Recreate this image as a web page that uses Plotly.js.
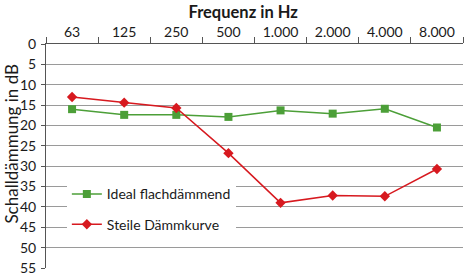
<!DOCTYPE html>
<html><head><meta charset="utf-8">
<script src="https://cdn.plot.ly/plotly-3.0.1.min.js"></script>
<style>body{margin:0;padding:0;background:#fff}#c{width:465px;height:276px}</style>
</head><body><div id="c"></div>
<script>
const categories = ["63","125","250","500","1.000","2.000","4.000","8.000"];
const idealValues = [16.0, 17.4, 17.4, 17.9, 16.3, 17.1, 15.9, 20.5];
const steilValues = [13.0, 14.4, 15.7, 26.8, 39.0, 37.2, 37.4, 30.7];
const seriesNames = ["Ideal flachdämmend", "Steile Dämmkurve"];
const xTitle = "Frequenz in Hz";
const yTitle = "Schalldämmung in dB";

const font = "Lato, Open Sans, sans-serif";
const traces = [
  {x: categories, y: idealValues, name: seriesNames[0], type: "scatter", mode: "lines+markers",
   legendgroup: "a",
   line: {color: "#4c9f38", width: 1.5}, marker: {symbol: "square", size: 8, color: "#4c9f38"}},
  {x: categories, y: steilValues, name: seriesNames[1], type: "scatter", mode: "lines+markers",
   legendgroup: "b",
   line: {color: "#d7191f", width: 1.5}, marker: {symbol: "diamond", size: 8, color: "#d7191f"}}
];
const layout = {
  width: 465, height: 276,
  margin: {l: 46, r: 2, t: 44, b: 8},
  paper_bgcolor: "#fff", plot_bgcolor: "#fff",
  font: {family: font, size: 14, color: "#1a1a1a"},
  title: {text: "<b>" + xTitle + "</b>", font: {family: font, size: 16.5, color: "#1a1a1a"}, x: 0.523, xanchor: "center", y: 0.955, yanchor: "middle"},
  xaxis: {type: "category", side: "top", range: [-0.5, 7.5], tickson: "boundaries", ticks: "outside",
          ticklen: 6, tickcolor: "#555", showline: true, linecolor: "#555", linewidth: 1,
          showgrid: false, zeroline: false, tickfont: {size: 14}, fixedrange: true},
  yaxis: {range: [55, 0], dtick: 5, tick0: 0, ticks: "outside", ticklen: 4, tickcolor: "#555",
          showline: true, linecolor: "#555", showgrid: true, gridcolor: "#9a9a9a", gridwidth: 1,
          zeroline: false, tickfont: {size: 14}, ticklabeloverflow: "allow", ticklabelstandoff: 2},
  annotations: [{text: yTitle, textangle: -90, xref: "paper", yref: "paper", x: -0.085, y: 0.5,
                 xanchor: "center", yanchor: "middle", showarrow: false, font: {size: 17},
                 yshift: 12}],
  showlegend: true,
  legend: {x: 0.05, y: 0.40, xanchor: "left", yanchor: "top", bgcolor: "#fff", borderwidth: 0,
           traceorder: "grouped", tracegroupgap: 9, font: {size: 14}, itemwidth: 30}
};
Plotly.newPlot("c", traces, layout, {displayModeBar: false, staticPlot: true});
</script></body></html>
